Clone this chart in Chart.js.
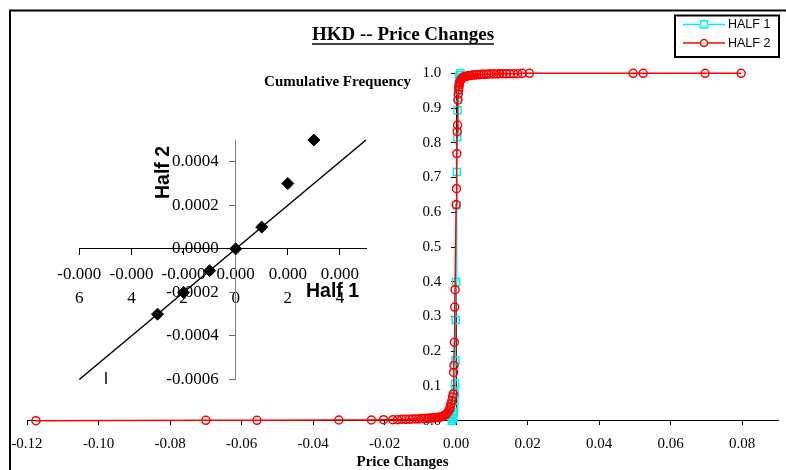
<!DOCTYPE html>
<html>
<head>
<meta charset="utf-8">
<script src="https://cdn.jsdelivr.net/npm/chart.js@4.4.0/dist/chart.umd.min.js"></script>
<style>
  body { margin: 0; background: #fff; }
  #wrap { position: relative; width: 786px; height: 470px; overflow: hidden; }
  #wrap canvas { position: absolute; }
  #main { left: 0; top: 0; }
  #inset { left: 30px; top: 100px; }
</style>
</head>
<body>
<div id="wrap">
  <canvas id="main" width="786" height="470"></canvas>
  <canvas id="inset" width="350" height="300"></canvas>
</div>
<script>
// cumulative frequency, first half
var half1X = [-0.0012, -0.0010, -0.0009, -0.0008, -0.0007, -0.0006, -0.0005, -0.0004, -0.0003, -0.0002, -0.0001,
  0.0000, 0.0001, 0.0002, 0.0003, 0.0004, 0.0005, 0.0006, 0.0007, 0.0008, 0.0009, 0.0010, 0.0012];
var half1Y = [0.000, 0.004, 0.009, 0.016, 0.026, 0.040, 0.058, 0.080, 0.106, 0.173, 0.290,
  0.399, 0.620, 0.716, 0.817, 0.894, 0.930, 0.952, 0.968, 0.980, 0.988, 0.994, 1.000];

// cumulative frequency, second half
var half2X = [-0.1175, -0.0700, -0.0557, -0.0328, -0.0237, -0.0203, -0.0177, -0.0164, -0.0152, -0.0141,
  -0.0131, -0.0122, -0.0113, -0.0105, -0.0097, -0.0090, -0.0083, -0.0076, -0.0070, -0.0064,
  -0.0058, -0.0053, -0.0048, -0.0043, -0.0039, -0.0035, -0.0031, -0.0027, -0.0024, -0.0021,
  -0.0018, -0.0016, -0.0014, -0.0012, -0.0010, -0.0008, -0.0007, -0.0006, -0.0005, -0.0004,
  -0.0003, 0.0000, 0.0001, 0.0002, 0.0003, 0.0004, 0.0005, 0.0006, 0.0007, 0.0008,
  0.0009, 0.0010, 0.0012, 0.0014, 0.0016, 0.0019, 0.0022, 0.0026, 0.0030, 0.0035,
  0.0040, 0.0046, 0.0052, 0.0058, 0.0064, 0.0070, 0.0077, 0.0084, 0.0091, 0.0098,
  0.0106, 0.0114, 0.0122, 0.0131, 0.0140, 0.0150, 0.0161, 0.0172, 0.0185, 0.0205,
  0.0495, 0.0523, 0.0696, 0.0797];
var half2Y = [0.000, 0.001, 0.001, 0.002, 0.002, 0.003, 0.003, 0.003, 0.004, 0.004,
  0.004, 0.005, 0.005, 0.005, 0.006, 0.006, 0.007, 0.007, 0.008, 0.008,
  0.009, 0.009, 0.010, 0.011, 0.012, 0.014, 0.016, 0.019, 0.023, 0.028,
  0.034, 0.041, 0.049, 0.058, 0.068, 0.077, 0.139, 0.159, 0.226, 0.327,
  0.377, 0.622, 0.668, 0.769, 0.832, 0.851, 0.923, 0.940, 0.952, 0.961,
  0.968, 0.974, 0.979, 0.983, 0.986, 0.988, 0.990, 0.991, 0.992, 0.993,
  0.994, 0.995, 0.995, 0.996, 0.996, 0.997, 0.997, 0.997, 0.998, 0.998,
  0.998, 0.998, 0.999, 0.999, 0.999, 0.999, 0.999, 0.999, 1.000, 1.000,
  1.000, 1.000, 1.000, 1.000];

var xTicks = [-0.12, -0.10, -0.08, -0.06, -0.04, -0.02, 0.00, 0.02, 0.04, 0.06, 0.08];
var yTicks = [0.0, 0.1, 0.2, 0.3, 0.4, 0.5, 0.6, 0.7, 0.8, 0.9, 1.0];

// inset: quantiles half 1 vs half 2
var qHalf1 = [-0.0003, -0.0002, -0.0001, 0.0000, 0.0001, 0.0002, 0.0003];
var qHalf2 = [-0.0003, -0.0002, -0.0001, 0.0000, 0.0001, 0.0003, 0.0005];
var fitX = [-0.0006, 0.0005];
var fitY = [-0.0006, 0.0005];
var qTicksX = [-0.0006, -0.0004, -0.0002, 0.0000, 0.0002, 0.0004];
var qTicksY = [-0.0006, -0.0004, -0.0002, 0.0000, 0.0002, 0.0004];

var serif = "'Liberation Serif', 'Times New Roman', serif";
var sans = "'Liberation Sans', Arial, sans-serif";
var cyan = '#00f0f0';
var red = '#ff0000';

function pts(xs, ys) {
  return xs.map(function (x, i) { return { x: x, y: ys[i] }; });
}

var mainDecor = {
  id: 'mainDecor',
  afterDraw: function (chart) {
    var ctx = chart.ctx;
    ctx.save();
    // outer frame (right and bottom edges are cut off)
    ctx.strokeStyle = '#000';
    ctx.lineWidth = 2;
    ctx.strokeRect(10, 10.5, 900, 600);

    ctx.fillStyle = '#000';
    ctx.textAlign = 'center';
    ctx.textBaseline = 'middle';
    ctx.font = 'bold 19px ' + serif;
    var title = 'HKD -- Price Changes';
    ctx.fillText(title, 403, 35);
    var w = ctx.measureText(title).width;
    ctx.lineWidth = 1.5;
    ctx.beginPath();
    ctx.moveTo(403 - w / 2, 44);
    ctx.lineTo(403 + w / 2, 44);
    ctx.stroke();

    ctx.font = 'bold 15px ' + serif;
    ctx.fillText('Cumulative Frequency', 337.5, 82);
    ctx.fillText('Price Changes', 402.5, 462);

    // legend
    ctx.lineWidth = 2;
    ctx.strokeRect(675, 15.5, 104, 41.5);
    chart.data.datasets.forEach(function (ds, i) {
      var y = 24.5 + i * 18.5;
      ctx.strokeStyle = ds.borderColor;
      ctx.lineWidth = 1.5;
      ctx.beginPath();
      ctx.moveTo(683, y);
      ctx.lineTo(725, y);
      ctx.stroke();
      ctx.beginPath();
      if (ds.pointStyle === 'rect') {
        ctx.rect(700.5, y - 3.5, 7, 7);
      } else {
        ctx.arc(704, y, 3.5, 0, Math.PI * 2);
      }
      ctx.fillStyle = '#fff';
      ctx.fill();
      ctx.stroke();
      ctx.fillStyle = '#000';
      ctx.textAlign = 'left';
      ctx.font = '12.5px ' + sans;
      ctx.fillText(ds.label, 728, y + 0.5);
    });
    ctx.restore();
  }
};

new Chart(document.getElementById('main'), {
  type: 'line',
  data: {
    datasets: [{
      label: 'HALF 1',
      data: pts(half1X, half1Y),
      borderColor: cyan,
      backgroundColor: 'rgba(0,0,0,0)',
      borderWidth: 1.5,
      pointStyle: 'rect',
      pointRadius: 5,
      pointBorderWidth: 1.5,
      pointBorderColor: cyan,
      pointBackgroundColor: 'rgba(0,0,0,0)',
      tension: 0,
      clip: false,
      order: 1
    },
    {
      label: 'HALF 2',
      data: pts(half2X, half2Y),
      borderColor: red,
      backgroundColor: 'rgba(0,0,0,0)',
      borderWidth: 1.5,
      pointStyle: 'circle',
      pointRadius: 4,
      pointBorderWidth: 1.5,
      pointBorderColor: red,
      pointBackgroundColor: 'rgba(0,0,0,0)',
      tension: 0,
      clip: false,
      order: 0
    }]
  },
  options: {
    responsive: false,
    animation: false,
    devicePixelRatio: 1,
    layout: { padding: { left: 27, right: 8, top: 73.3, bottom: 49.3 } },
    plugins: { legend: { display: false }, tooltip: { enabled: false } },
    scales: {
      x: {
        type: 'linear',
        min: -0.12,
        max: 0.09,
        position: { y: 0 },
        afterBuildTicks: function (scale) {
          scale.ticks = xTicks.map(function (v) { return { value: v }; });
        },
        grid: { drawOnChartArea: false, tickLength: 4, color: '#000' },
        border: { color: '#000', width: 1 },
        ticks: {
          padding: 10, color: '#000', maxRotation: 0, autoSkip: false,
          font: { family: serif, size: 15 },
          callback: function (v) { return v.toFixed(2); }
        }
      },
      y: {
        type: 'linear',
        min: 0,
        max: 1,
        position: { x: 0 },
        afterBuildTicks: function (scale) {
          scale.ticks = yTicks.map(function (v) { return { value: v }; });
        },
        grid: { drawOnChartArea: false, tickLength: 5, color: '#000' },
        border: { color: '#000', width: 1 },
        ticks: {
          color: '#000', autoSkip: false,
          font: { family: serif, size: 15 },
          callback: function (v) { return v.toFixed(1) + '    '; }
        }
      }
    }
  },
  plugins: [mainDecor]
});

var insetDecor = {
  id: 'insetDecor',
  afterDraw: function (chart) {
    var ctx = chart.ctx;
    ctx.save();
    ctx.fillStyle = '#000';
    ctx.textAlign = 'center';
    ctx.textBaseline = 'middle';
    ctx.font = 'bold 19.5px ' + sans;
    ctx.fillText('Half 1', 302.5, 191.5);
    ctx.translate(133.5, 72.5);
    ctx.rotate(-Math.PI / 2);
    ctx.fillText('Half 2', 0, 0);
    ctx.restore();
    ctx.save();
    ctx.fillStyle = '#000';
    ctx.textAlign = 'center';
    ctx.textBaseline = 'middle';
    ctx.font = '16px ' + sans;
    ctx.fillText('I', 76, 280);
    ctx.restore();
  }
};

new Chart(document.getElementById('inset'), {
  type: 'scatter',
  data: {
    datasets: [{
      label: 'Quantiles',
      data: pts(qHalf1, qHalf2),
      pointStyle: 'rectRot',
      pointRadius: 6,
      pointBackgroundColor: '#000',
      pointBorderColor: '#000',
      pointBorderWidth: 1,
      showLine: false,
      clip: false
    },
    {
      label: 'Fit',
      data: pts(fitX, fitY),
      showLine: true,
      borderColor: '#000',
      borderWidth: 1.5,
      pointRadius: 0,
      clip: false
    }]
  },
  options: {
    responsive: false,
    animation: false,
    devicePixelRatio: 1,
    layout: { padding: { left: 49.3, right: 14, top: 40, bottom: 20.5 } },
    plugins: { legend: { display: false }, tooltip: { enabled: false } },
    scales: {
      x: {
        type: 'linear',
        min: -0.0006,
        max: 0.0005,
        position: { y: 0 },
        afterBuildTicks: function (scale) {
          scale.ticks = qTicksX.map(function (v) { return { value: v }; });
        },
        grid: { drawOnChartArea: false, tickLength: 6, color: '#000' },
        border: { color: '#000', width: 1 },
        ticks: {
          padding: 8, color: '#000', maxRotation: 0, autoSkip: false,
          font: { family: serif, size: 17, lineHeight: '24px' },
          callback: function (v) {
            var s = v.toFixed(4);
            return [s.slice(0, -1), s.slice(-1)];
          }
        }
      },
      y: {
        type: 'linear',
        min: -0.0006,
        max: 0.0005,
        position: { x: 0 },
        afterBuildTicks: function (scale) {
          scale.ticks = qTicksY.map(function (v) { return { value: v }; });
        },
        grid: { drawOnChartArea: false, tickLength: 6, color: '#666' },
        border: { color: '#808080', width: 1 },
        ticks: {
          color: '#000', autoSkip: false,
          font: { family: serif, size: 17 },
          callback: function (v) { return v.toFixed(4) + '    '; }
        }
      }
    }
  },
  plugins: [insetDecor]
});
</script>
</body>
</html>
